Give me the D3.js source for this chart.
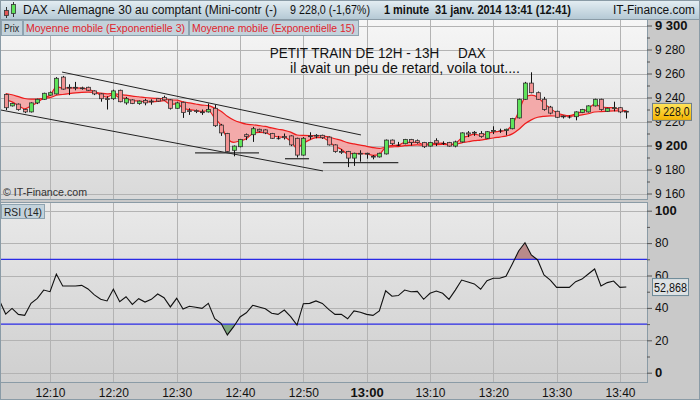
<!DOCTYPE html>
<html><head><meta charset="utf-8">
<script src="https://cdn.jsdelivr.net/npm/d3@7"></script>
<style>
body{margin:0;background:#fff}
svg{display:block;font-family:"Liberation Sans",Arial,sans-serif}
</style></head><body>
<svg id="chart" width="700" height="400"></svg>
<script>
// minute index of first candle (minutes after 12:00)
const firstMinute = 3
const opens  = [9242.5,9233,9234.5,9230,9228,9235.5,9238.5,9242,9243,9257,9248.5,9248.5,9248,9248.5,9245.5,9243,9239,9239,9246,9235.5,
  9238,9235,9237.5,9237,9239,9240,9238,9231,9236,9229,9229,9228,9228,9231,9217,9210,9196,9199,9209,9209,
  9213.5,9213,9210,9206,9207.5,9208,9206,9192,9208,9208,9208.5,9207,9200.5,9195,9195,9189.5,9193.5,9193.5,9191,9190.5,
  9193,9204.5,9200.5,9201.5,9205,9204,9202.5,9199.5,9204,9202,9202.5,9199.5,9203,9210.5,9210.5,9210,9206,9212,9212.5,9212.5,
  9214,9223,9238.5,9252,9244,9238.5,9232,9228.5,9224.5,9224,9224,9227.5,9228,9233,9238.5,9228.5,9231,9231.5,9228.5]
const highs  = [9243,9235.5,9235,9230.5,9236,9239,9244,9245,9257,9258,9251,9253,9249,9249,9246,9243.5,9241,9246.5,9246.5,9240.5,
  9238.5,9237.5,9239,9238.5,9239.5,9241.5,9238.5,9236.5,9236.5,9231,9230,9230,9235,9234,9218,9210.5,9200,9205.5,9210,9215.5,
  9214,9213.5,9210.5,9208,9210,9208.5,9206.5,9207,9211,9209.5,9209,9207.5,9201,9197,9195.5,9194,9196,9194,9192,9194,
  9205,9205,9203,9205.5,9205.5,9205,9203,9203,9206,9203.5,9203,9204,9211,9212,9212,9212,9212,9216,9214,9214,
  9223,9239,9253,9261,9245,9240.5,9233,9229,9225,9225,9228.5,9230.5,9233.5,9239,9239,9231.5,9236.5,9232,9229]
const lows   = [9229.5,9232.5,9229,9227,9227.5,9234.5,9238,9241.5,9242.5,9246.5,9242,9246,9246.5,9245.5,9242,9236.5,9230,9238,9236,9234,
  9234.5,9234,9233.5,9234,9236.5,9237.5,9230,9230.5,9223,9225.5,9227,9225.5,9227.5,9215.5,9208,9194.5,9191,9198.5,9204.5,9203,
  9211,9209.5,9205.5,9205,9205,9199.5,9190,9191.5,9205,9206,9205.5,9200,9194,9193,9182,9183,9186.5,9189,9188.5,9190,
  9192.5,9200.5,9199.5,9201,9200,9201.5,9198,9199,9199.5,9200.5,9199,9198.5,9202.5,9207,9208,9206.5,9205.5,9209.5,9210.5,9208.5,
  9213.5,9222.5,9238,9243.5,9238,9229,9226,9223,9222.5,9222.5,9221,9227,9227.5,9232.5,9229,9228,9228.5,9227,9222.5]
const closes = [9231.5,9235,9230,9228,9235.5,9238.5,9243.5,9244,9256,9247,9248,9248,9247.5,9246,9243,9239,9238.5,9245.5,9236.5,9239,
  9235,9237,9235.5,9236.5,9237,9238,9231,9235.5,9227.5,9228.5,9228.5,9227.5,9230,9216.5,9210.5,9195,9199.5,9205,9207.5,9214,
  9212,9210.5,9206,9206,9206.5,9200.5,9192,9206,9207.5,9208.5,9206.5,9200.5,9195,9194.5,9189.5,9193.5,9193,9193,9190.5,9193.5,
  9204.5,9201.5,9200.5,9205,9202.5,9202.5,9199,9202.5,9202,9202,9199.5,9203,9210.5,9209.5,9211,9207.5,9211.5,9212.5,9212.5,9213.5,
  9222.5,9238.5,9252,9244,9238.5,9230,9227,9223.5,9224,9224,9228,9230,9233,9238.5,9230,9231,9231.5,9228,9228]
// RSI(14), first value at minute 2
const rsiFirstMinute = 2
const rsiValues = [44.7,36.2,39.7,36.0,35.4,42.8,45.9,51.0,50.0,60.9,53.5,53.5,53.5,53.9,51.7,48.0,45.3,44.3,51.5,43.8,
  46.9,42.2,45.7,43.6,45.3,48.6,46.3,40.6,45.9,39.3,41.0,40.4,39.7,42.8,33.3,30.5,23.3,28.4,34.4,37.0,
  41.6,40.6,39.5,36.7,36.0,38.7,34.6,29.4,42.6,42.8,44.3,42.8,39.1,36.0,36.0,33.3,38.1,37.3,36.0,35.4,
  38.1,50.6,47.2,47.6,51.0,50.0,50.2,45.3,49.0,50.4,49.0,45.3,51.0,57.2,56.0,54.8,51.5,56.8,58.3,58.3,
  59.5,67.1,75.1,80.2,72.7,69.6,60.3,57.2,52.7,52.7,52.7,56.2,57.8,60.9,64.0,53.5,55.6,56.6,52.7,52.868]
// EMA values just before the first candle
const ema3Seed = 9244
const ema15Seed = 9245
const timeTicks = [10,20,30,40,50,60,70,80,90,100]
const priceTicks = [9160,9180,9200,9220,9240,9260,9280,9300]
const rsiTicks = [0,20,40,60,80,100]
const rsiBands = [30,70]
// drawn trend lines [minute, price]
const trendLines = [
  [[11.9,9261.2],[59.1,9208.8]],
  [[2.2,9229.6],[53.1,9178.8]]
]
const supportLines = [
  [[32.9,9193.8],[43.0,9193.8]],
  [[47.1,9189],[50.9,9189]],
  [[53.1,9185.7],[65.0,9185.7]]
]
const lastPriceLabel = "9 228,0"
const lastRsiLabel = "52,868"

const candles = closes.map((c,i)=>({m:firstMinute+i,o:opens[i],h:highs[i],l:lows[i],c}))
function ema(vals, n, seed){
  const a = 2/(n+1); let e = seed
  return vals.map(v => (e = e + a*(v-e)))
}
const e3 = ema(closes,3,ema3Seed), e15 = ema(closes,15,ema15Seed)
const emaPts = candles.map((d,i)=>({m:d.m,a:e3[i],b:e15[i]}))
const rsiPts = rsiValues.map((v,i)=>({m:rsiFirstMinute+i,v}))

const fr = d3.formatLocale({decimal:",",thousands:" ",grouping:[3],currency:["","€"]})
const W=700,H=400
const L=1,R=647
const main = {top:19,bottom:199}, low = {top:203,bottom:382}

const x = d3.scaleLinear().domain([0,101]).range([-13.3,626.3])
const y = d3.scaleLinear().domain([9160,9300]).range([193.5,25.5])
const yr = d3.scaleLinear().domain([0,100]).range([372.7,210.7])

const svg = d3.select("#chart")
const defs = svg.append("defs")
function vgrad(id, stops){
  const g = defs.append("linearGradient").attr("id",id).attr("x1",0).attr("x2",0).attr("y1",0).attr("y2",1)
  stops.forEach(([o,c])=>g.append("stop").attr("offset",o).attr("stop-color",c))
}
vgrad("bgMain",[[0,"#f6f6f6"],[1,"#d9d9d9"]])
vgrad("bgRsi",[[0,"#e9e9e9"],[1,"#cfcfcf"]])
vgrad("bar",[[0,"#e3edf2"],[1,"#b5c9d5"]])
vgrad("gold",[[0,"#ffe45c"],[1,"#f4b400"]])
defs.append("clipPath").attr("id","clipMain").append("rect").attr("x",L).attr("y",main.top).attr("width",R-L).attr("height",main.bottom-main.top)
defs.append("clipPath").attr("id","clipRsi").append("rect").attr("x",L).attr("y",low.top).attr("width",R-L).attr("height",low.bottom-low.top)
defs.append("clipPath").attr("id","clipOver").append("rect").attr("x",L).attr("y",low.top).attr("width",R-L).attr("height",yr(70)-low.top)
defs.append("clipPath").attr("id","clipUnder").append("rect").attr("x",L).attr("y",yr(30)).attr("width",R-L).attr("height",low.bottom-yr(30))

// window background
svg.append("rect").attr("width",W).attr("height",H).attr("fill","#c9c9c9")
svg.append("rect").attr("x",L).attr("y",main.top).attr("width",R-L).attr("height",main.bottom-main.top).attr("fill","url(#bgMain)")
svg.append("rect").attr("x",L).attr("y",low.top).attr("width",R-L).attr("height",low.bottom-low.top).attr("fill","url(#bgRsi)")

// grids
const grid = svg.append("g").attr("stroke","#b3b3b3").attr("stroke-width",1)
grid.selectAll(".vm").data(timeTicks).join("line").attr("x1",d=>Math.round(x(d))+.5).attr("x2",d=>Math.round(x(d))+.5).attr("y1",main.top).attr("y2",main.bottom)
grid.selectAll(".vr").data(timeTicks).join("line").attr("class","vr").attr("x1",d=>Math.round(x(d))+.5).attr("x2",d=>Math.round(x(d))+.5).attr("y1",low.top).attr("y2",low.bottom)
grid.selectAll(".hm").data(priceTicks).join("line").attr("class","hm").attr("x1",L).attr("x2",R).attr("y1",d=>Math.round(y(d))+.5).attr("y2",d=>Math.round(y(d))+.5)
grid.selectAll(".hr").data(rsiTicks).join("line").attr("class","hr").attr("x1",L).attr("x2",R).attr("y1",d=>Math.round(yr(d))+.5).attr("y2",d=>Math.round(yr(d))+.5)

// EMA band
const gm = svg.append("g").attr("clip-path","url(#clipMain)")
gm.append("path").datum(emaPts).attr("fill","#f4a3a3").attr("fill-opacity",0.9)
  .attr("d",d3.area().x(d=>x(d.m)).y0(d=>y(d.b)).y1(d=>y(d.a)).curve(d3.curveMonotoneX))
;["a","b"].forEach(k=>gm.append("path").datum(emaPts).attr("fill","none").attr("stroke","#ee1c1c").attr("stroke-width",1.2)
  .attr("d",d3.line().x(d=>x(d.m)).y(d=>y(d[k])).curve(d3.curveMonotoneX)))

// trend lines
gm.selectAll(".tl").data(trendLines).join("line").attr("stroke","#222").attr("stroke-width",1)
  .attr("x1",d=>x(d[0][0])).attr("y1",d=>y(d[0][1])).attr("x2",d=>x(d[1][0])).attr("y2",d=>y(d[1][1]))
gm.selectAll(".sl").data(supportLines).join("line").attr("stroke","#333").attr("stroke-width",1.3)
  .attr("x1",d=>x(d[0][0])).attr("y1",d=>y(d[0][1])).attr("x2",d=>x(d[1][0])).attr("y2",d=>y(d[1][1]))

// candles
const cg = gm.selectAll(".c").data(candles).join("g")
cg.append("line").attr("stroke","#111").attr("x1",d=>Math.round(x(d.m))+.5).attr("x2",d=>Math.round(x(d.m))+.5)
  .attr("y1",d=>y(d.h)).attr("y2",d=>y(d.l))
cg.append("rect").attr("x",d=>Math.round(x(d.m))-1.5).attr("width",4)
  .attr("y",d=>y(Math.max(d.o,d.c))).attr("height",d=>Math.max(0.8,Math.abs(y(d.o)-y(d.c))))
  .attr("fill",d=>d.c>d.o?"#5fe35a":d.c<d.o?"#f29292":"#111")
  .attr("stroke",d=>d.c===d.o?"none":"#333").attr("stroke-width",0.8)

// fit a text element to a given pixel width
function fit(sel, w){ return sel.attr("textLength",w).attr("lengthAdjust","spacingAndGlyphs") }

// annotation
const note = svg.append("g").attr("font-size",14).attr("fill","#111")
fit(note.append("text").attr("x",x(44.7)).attr("y",y(9273)).attr("xml:space","preserve").style("white-space","pre")
  .text("PETIT TRAIN DE 12H - 13H     DAX"), 216)
fit(note.append("text").attr("x",x(47.9)).attr("y",y(9260.5)).text("il avait un peu de retard, voila tout...."), 230)
fit(svg.append("text").attr("x",3).attr("y",196).attr("font-size",11.5).attr("fill","#333").text("© IT-Finance.com"), 84)

// RSI
const gr = svg.append("g").attr("clip-path","url(#clipRsi)")
const rsiArea = t => d3.area().x(d=>x(d.m)).y0(yr(t)).y1(d=>yr(d.v))
gr.append("g").attr("clip-path","url(#clipOver)").append("path").datum(rsiPts).attr("fill","#b98a8a").attr("d",rsiArea(70))
gr.append("g").attr("clip-path","url(#clipUnder)").append("path").datum(rsiPts).attr("fill","#7fa67f").attr("d",rsiArea(30))
gr.selectAll(".band").data(rsiBands).join("line").attr("stroke","#2a2ae6").attr("stroke-width",1.2)
  .attr("x1",L).attr("x2",R).attr("y1",d=>yr(d)).attr("y2",d=>yr(d))
gr.append("path").datum(rsiPts).attr("fill","none").attr("stroke","#111").attr("stroke-width",1.1)
  .attr("d",d3.line().x(d=>x(d.m)).y(d=>yr(d.v)))

// panel frames
const frame = svg.append("g").attr("fill","none").attr("stroke","#8a9ba6")
frame.append("rect").attr("x",L-.5).attr("y",main.top+.5).attr("width",R-L+1).attr("height",main.bottom-main.top)
frame.append("rect").attr("x",L-.5).attr("y",low.top-.5).attr("width",R-L+1).attr("height",low.bottom-low.top+1)
svg.append("rect").attr("x",.5).attr("y",.5).attr("width",W-1).attr("height",H-1).attr("fill","none").attr("stroke","#8a9ba6")

// axes
const pAxis = svg.append("g").attr("transform",`translate(${R},0)`)
  .call(d3.axisRight(y).tickValues(priceTicks).tickSize(5).tickPadding(3).tickFormat(fr.format(",.0f")))
const pMinor = svg.append("g").attr("transform",`translate(${R},0)`)
  .call(d3.axisRight(y).tickValues(priceTicks.slice(0,-1).map(v=>v+10)).tickSize(3).tickFormat(""))
const rAxis = svg.append("g").attr("transform",`translate(${R},0)`)
  .call(d3.axisRight(yr).tickValues(rsiTicks).tickSize(5).tickPadding(3))
const rMinor = svg.append("g").attr("transform",`translate(${R},0)`)
  .call(d3.axisRight(yr).tickValues(rsiTicks.slice(0,-1).map(v=>v+10)).tickSize(3).tickFormat(""))
const tAxis = svg.append("g").attr("transform",`translate(0,${low.bottom})`)
  .call(d3.axisBottom(x).tickValues(timeTicks).tickSize(0).tickPadding(6)
    .tickFormat(m=>`${12+Math.floor(m/60)}:${String(m%60).padStart(2,"0")}`))
;[pAxis,pMinor,rAxis,rMinor,tAxis].forEach(a=>{
  a.select(".domain").remove()
  a.selectAll("line").attr("stroke","#555")
  a.selectAll("text").attr("font-family","Liberation Sans, Arial, sans-serif").attr("fill","#111").attr("font-size",12)
})
pAxis.selectAll("text").filter(d=>d%100===0).attr("font-weight","bold").attr("font-size",13)
rAxis.selectAll("text").filter(d=>d===0||d===100).attr("font-weight","bold").attr("font-size",13)
tAxis.selectAll("text").filter(d=>d===60).attr("font-weight","bold").attr("font-size",13)

// value labels (they sit over the nearest axis label, as in the original)
const lastY = y(closes[closes.length-1])
svg.append("rect").attr("x",652.5).attr("y",lastY-8.5).attr("width",39).attr("height",17).attr("fill","url(#gold)").attr("stroke","#6d7d88")
fit(svg.append("text").attr("x",654.5).attr("y",lastY+4.5).attr("font-size",12).attr("fill","#111").text(lastPriceLabel), 35)
const lastR = yr(rsiValues[rsiValues.length-1])
svg.append("rect").attr("x",652.5).attr("y",lastR-8.5).attr("width",36).attr("height",17).attr("fill","#dde1e3").attr("stroke","#6d8a98")
fit(svg.append("text").attr("x",654).attr("y",lastR+4.5).attr("font-size",12).attr("fill","#111").text(lastRsiLabel), 33)

// title bar
svg.append("rect").attr("x",1).attr("y",1).attr("width",W-2).attr("height",18).attr("fill","url(#bar)")
svg.append("line").attr("x1",1).attr("x2",W-1).attr("y1",19.5).attr("y2",19.5).attr("stroke","#8a9ba6")
const icon = svg.append("g")
icon.append("line").attr("x1",6.5).attr("x2",6.5).attr("y1",7).attr("y2",18).attr("stroke","#333")
icon.append("rect").attr("x",4.5).attr("y",10.5).attr("width",4).attr("height",5).attr("fill","#e05555").attr("stroke","#333").attr("stroke-width",.8)
icon.append("line").attr("x1",13.5).attr("x2",13.5).attr("y1",2).attr("y2",17).attr("stroke","#333")
icon.append("rect").attr("x",11.5).attr("y",4.5).attr("width",4).attr("height",9).attr("fill","#5fe35a").attr("stroke","#333").attr("stroke-width",.8)
const title = svg.append("g").attr("font-size",12.5).attr("fill","#111")
fit(title.append("text").attr("x",23).attr("y",14).text("DAX - Allemagne 30 au comptant (Mini-contr (-)"), 254)
fit(title.append("text").attr("x",290).attr("y",14).text("9 228,0 (-1,67%)"), 80)
fit(title.append("text").attr("x",384).attr("y",14).attr("font-weight","bold").attr("xml:space","preserve").style("white-space","pre")
  .text("1 minute  31 janv. 2014 13:41 (12:41)"), 187)
fit(title.append("text").attr("x",613).attr("y",14).text("IT-Finance.com"), 82)

// legend tabs [label, colour, tab width]
const tabs = [["Prix","#222",21],["Moyenne mobile (Exponentielle 3)","#e0242c",165],["Moyenne mobile (Exponentielle 15)","#e0242c",169]]
let tx = 1
tabs.forEach(([t,c,w])=>{
  const g = svg.append("g")
  g.append("rect").attr("x",tx+.5).attr("y",20.5).attr("width",w).attr("height",15).attr("fill","#c3d2db").attr("stroke","#8ea3b0")
  fit(g.append("text").attr("x",tx+3).attr("y",32).attr("font-size",11.5).attr("fill",c).text(t), w-6)
  tx += w+1
})
svg.append("rect").attr("x",1.5).attr("y",204.5).attr("width",43).attr("height",14).attr("fill","#c3d2db").attr("stroke","#8ea3b0")
fit(svg.append("text").attr("x",4).attr("y",215.5).attr("font-size",11.5).attr("fill","#222").text("RSI (14)"), 38)
</script></body></html>
